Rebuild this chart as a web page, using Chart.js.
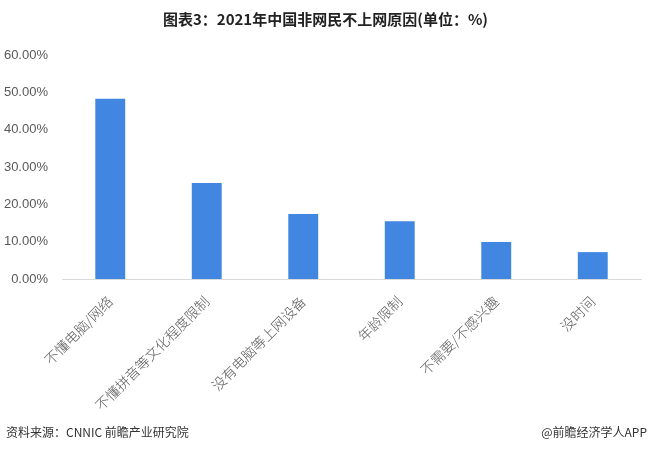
<!DOCTYPE html>
<html>
<head>
<meta charset="utf-8">
<script src="https://cdn.jsdelivr.net/npm/chart.js@4"></script>
<style>
  body { margin: 0; background: #fff; font-family: "Noto Sans CJK SC", "Liberation Sans", sans-serif; }
  #wrap { position: relative; width: 651px; height: 452px; overflow: hidden; }
  #chart { position: absolute; left: 0; top: 0; }
  #title { position: absolute; top: 8px; left: 0; width: 651px; text-align: center; font-size: 15px; font-weight: bold; color: #222; }
  .foot { position: absolute; top: 423px; font-size: 12px; color: #333; }
</style>
</head>
<body>
<div id="wrap">
  <canvas id="chart" width="651" height="452"></canvas>
  <div id="title">图表3：2021年中国非网民不上网原因(单位：%)</div>
  <div class="foot" style="left:6px">资料来源：CNNIC 前瞻产业研究院</div>
  <div class="foot" style="right:4px">@前瞻经济学人APP</div>
</div>
<script>
const categories = ["不懂电脑/网络", "不懂拼音等文化程度限制", "没有电脑等上网设备", "年龄限制", "不需要/不感兴趣", "没时间"];
const shares = [48.3, 25.7, 17.4, 15.5, 9.9, 7.2];
const yTicks = [0, 10, 20, 30, 40, 50, 60];

new Chart(document.getElementById("chart"), {
  type: "bar",
  data: {
    labels: categories,
    datasets: [{
      data: shares,
      backgroundColor: "#4186e0",
      barPercentage: 0.31,
      categoryPercentage: 1,
    }],
  },
  options: {
    responsive: false,
    animation: false,
    layout: { padding: { top: 55, right: 10, left: 0, bottom: 0 } },
    plugins: { legend: { display: false }, tooltip: { enabled: false } },
    scales: {
      x: {
        grid: { display: false, drawTicks: false },
        border: { color: "#d9d9d9", width: 1 },
        ticks: {
          color: "#595959",
          padding: 14,
          font: { size: 14, family: "Noto Sans CJK SC", weight: "300" },
          maxRotation: 45,
          minRotation: 45,
          autoSkip: false,
        },
        afterFit: (scale) => { scale.height = 173; },
      },
      y: {
        min: 0,
        max: 60,
        afterBuildTicks: (scale) => { scale.ticks = yTicks.map((v) => ({ value: v })); },
        grid: { display: false, drawTicks: false },
        border: { display: false },
        ticks: {
          color: "#595959",
          padding: 14,
          font: { size: 13, family: "Liberation Sans" },
          callback: (v) => v.toFixed(2) + "%",
        },
        afterFit: (scale) => { scale.width = 62; },
      },
    },
  },
});
</script>
</body>
</html>
